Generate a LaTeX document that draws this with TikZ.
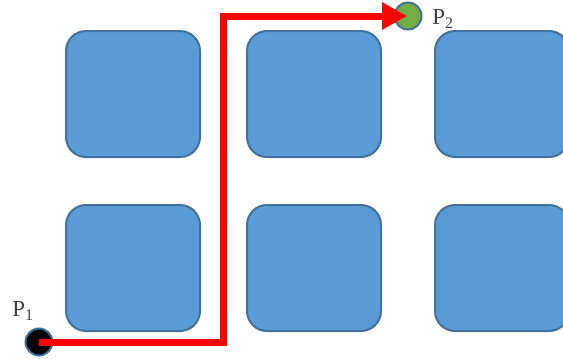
\documentclass[tikz,border=0pt]{standalone}
\usepackage{fontspec}
\setmainfont{Liberation Serif}
\usetikzlibrary{arrows.meta}
\definecolor{boxfill}{HTML}{5B9BD5}
\definecolor{boxline}{HTML}{41719C}
\definecolor{ptgreen}{HTML}{70AD47}
\definecolor{labelgray}{HTML}{404040}
\tikzset{
  block/.style={draw=boxline, fill=boxfill, line width=2bp, rounded corners=20bp,
    minimum width=134bp, minimum height=126bp, inner sep=0pt},
  pt/.style={circle, draw=boxline, line width=2bp, minimum size=27bp, inner sep=0pt},
  lbl/.style={text=labelgray, font=\fontsize{23}{25}\selectfont, inner sep=0pt},
  route/.style={draw=red, line width=7bp, line join=miter, -{Triangle[length=25bp,width=26bp]}}
}
\begin{document}
\begin{tikzpicture}[x=1bp,y=-1bp]
\useasboundingbox (0,0) rectangle (563,358);
\node[block] (b1) at (133,94) {};
\node[block] (b2) at (314,94) {};
\node[block] (b3) at (502,94) {};
\node[block] (b4) at (133,268) {};
\node[block] (b5) at (314,268) {};
\node[block] (b6) at (502,268) {};
\node[pt, fill=black] (p1) at (39,342) {};
\node[pt, fill=ptgreen] (p2) at (408,16) {};
\node[lbl] (l1) at (23,311) {P\textsubscript{1}};
\node[lbl] (l2) at (443,19) {P\textsubscript{2}};
\coordinate (c1) at (223,342);
\coordinate (c2) at (223,16);
\draw[route] (p1.center) -- (c1) -- (c2) -- ([xshift=-1bp]p2.center);
\end{tikzpicture}
\end{document}
